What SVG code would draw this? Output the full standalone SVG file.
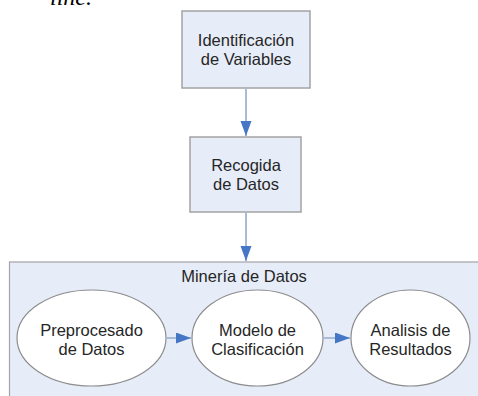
<svg xmlns="http://www.w3.org/2000/svg" width="478" height="396" viewBox="0 0 478 396">
<style>
.t{font-family:"Liberation Sans",Arial,sans-serif;font-size:16.5px;fill:#262626;text-anchor:middle}
.box{fill:#E7EDF8;stroke:#A3A3A3;stroke-width:1.5}
.ell{fill:#FFFFFF;stroke:#8C8C8C;stroke-width:1.2}
.conn{stroke:#A9BCD6;stroke-width:2;fill:none}
</style>
<defs>
<marker id="ah" markerUnits="userSpaceOnUse" markerWidth="16" markerHeight="12" refX="15" refY="5.5" orient="auto">
<path d="M0,0 L15,5.5 L0,11 z" fill="#4677C6"/>
</marker>
</defs>
<text x="50" y="5" style="font-family:'Liberation Serif','Times New Roman',serif;font-style:italic;font-size:24px;fill:#000">line.</text>
<g id="mineria">
<rect x="9.5" y="262" width="475" height="140" fill="#E7EDF8" stroke="#A3A3A3" stroke-width="1.2"/>
<text class="t" x="244" y="282">Minería de Datos</text>
</g>
<g id="identificacion">
<rect class="box" x="182" y="11" width="128" height="77"/>
<text class="t" x="246" y="46">Identificación</text>
<text class="t" x="246" y="65">de Variables</text>
</g>
<g id="recogida">
<rect class="box" x="190" y="137" width="111" height="75"/>
<text class="t" x="246" y="171">Recogida</text>
<text class="t" x="246" y="190">de Datos</text>
</g>
<g id="preprocesado">
<ellipse class="ell" cx="91.5" cy="338" rx="74.5" ry="48"/>
<text class="t" x="91.5" y="335.5">Preprocesado</text>
<text class="t" x="91.5" y="354.5">de Datos</text>
</g>
<g id="modelo">
<ellipse class="ell" cx="257.5" cy="338" rx="65.5" ry="48"/>
<text class="t" x="257.5" y="335.5">Modelo de</text>
<text class="t" x="257.5" y="354.5">Clasificación</text>
</g>
<g id="analisis">
<ellipse class="ell" cx="410.5" cy="338" rx="59.5" ry="48"/>
<text class="t" x="410.5" y="335.5">Analisis de</text>
<text class="t" x="410.5" y="354.5">Resultados</text>
</g>
<g id="connectors">
<line class="conn" x1="246" y1="88" x2="246" y2="136" marker-end="url(#ah)"/>
<line class="conn" x1="246" y1="212" x2="246" y2="261" marker-end="url(#ah)"/>
<line class="conn" x1="166" y1="338" x2="191" y2="338" marker-end="url(#ah)"/>
<line class="conn" x1="323" y1="338" x2="350" y2="338" marker-end="url(#ah)"/>
</g>
</svg>
